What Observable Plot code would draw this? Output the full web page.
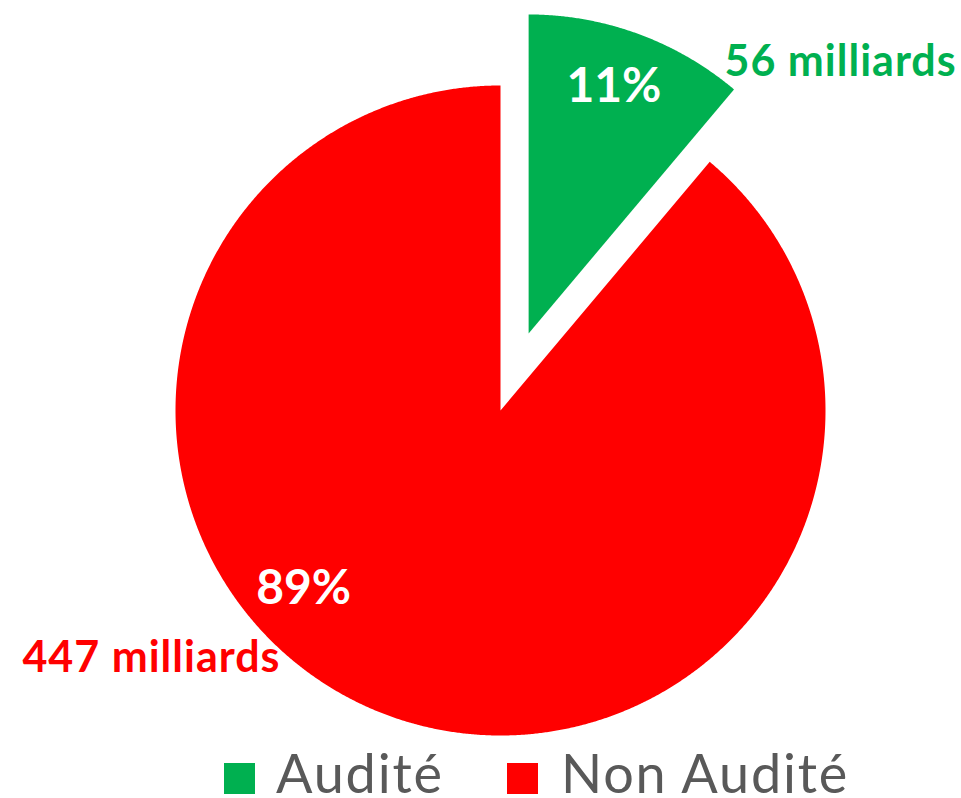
<!DOCTYPE html>
<html>
<head>
<meta charset="utf-8">
<script src="https://cdn.jsdelivr.net/npm/d3@7"></script>
<script src="https://cdn.jsdelivr.net/npm/@observablehq/plot@0.6"></script>
<style>
  html, body { margin: 0; padding: 0; background: #fff; }
  #chart { width: 961px; }
  #legend { position: relative; width: 961px; height: 56px; font-family: Lato, "Open Sans", sans-serif; color: #595959; }
  .sw { position: absolute; width: 31px; height: 31px; }
  .lt { position: absolute; font-size: 54px; line-height: 40px; letter-spacing: 1.8px; white-space: nowrap; }
</style>
</head>
<body>
<div id="chart"></div>
<div id="legend"></div>
<script>
// ---- data ----
const categories = ["Audité", "Non Audité"];
const values = [56, 447];
const valueLabels = ["56 milliards", "447 milliards"];
const colors = ["#00B050", "#FF0000"];

// ---- layout ----
const W = 961, H = 742;
const R = 325;            // px per unit radius
const CX = 500, CY = 410; // pie centre in px
const sliceRadius = [319 / 325, 1];
const explode = [82 / 325, 0];
// label placement: [angle shift from slice mid (deg), radial factor]
const pctPlace = [[-1, 0.82], [27.8, 0.817]];
const valPlace = [[29, 1.295], [34.6, 1.317]];

const total = d3.sum(values);
const arcs = d3.pie().sort(null).value(d => d)(values);
const deg = Math.PI / 180;

const points = [];
const pctData = [];
const valData = [];
arcs.forEach((a, i) => {
  const mid = (a.startAngle + a.endAngle) / 2;
  const ox = explode[i] * Math.sin(mid), oy = explode[i] * Math.cos(mid);
  const r = sliceRadius[i];
  points.push({label: categories[i], x: ox, y: oy});
  const n = Math.ceil((a.endAngle - a.startAngle) / (0.25 * deg));
  for (let k = 0; k <= n; k++) {
    const t = a.startAngle + (a.endAngle - a.startAngle) * k / n;
    points.push({label: categories[i], x: ox + r * Math.sin(t), y: oy + r * Math.cos(t)});
  }
  points.push({label: categories[i], x: ox, y: oy});
  const pa = mid + pctPlace[i][0] * deg, pr = pctPlace[i][1] * r;
  pctData.push({label: categories[i], text: Math.round(values[i] / total * 100) + "%",
    x: ox + pr * Math.sin(pa), y: oy + pr * Math.cos(pa)});
  const va = mid + valPlace[i][0] * deg, vr = valPlace[i][1] * r;
  valData.push({label: categories[i], text: valueLabels[i],
    x: ox + vr * Math.sin(va), y: oy + vr * Math.cos(va)});
});

const chart = Plot.plot({
  width: W, height: H, margin: 0,
  x: {domain: [-CX / R, (W - CX) / R], axis: null},
  y: {domain: [-(H - CY) / R, CY / R], axis: null},
  color: {domain: categories, range: colors},
  style: {background: "#fff", overflow: "visible"},
  marks: [
    Plot.line(points, {x: "x", y: "y", z: "label", fill: "label", stroke: null, curve: "linear"}),
    Plot.text(pctData, {x: "x", y: "y", text: "text", fill: "white", fontFamily: "Lato, 'Open Sans', sans-serif",
      fontWeight: "bold", fontSize: 48, textAnchor: "middle", lineAnchor: "middle"}),
    Plot.text(valData, {x: "x", y: "y", text: "text", fill: "label", fontFamily: "Lato, 'Open Sans', sans-serif",
      fontWeight: "bold", fontSize: 43, textAnchor: "middle", lineAnchor: "middle", className: "vlab"})
  ]
});
chart.querySelectorAll(".vlab text, g.vlab text").forEach(t => t.setAttribute("letter-spacing", "1"));
const vg = chart.querySelector("g.vlab");
if (vg) vg.setAttribute("letter-spacing", "1");
document.getElementById("chart").appendChild(chart);

// ---- legend ----
const legend = document.getElementById("legend");
const swX = [224, 507], txtX = [276, 561];
categories.forEach((c, i) => {
  const sw = document.createElement("div");
  sw.className = "sw";
  sw.style.left = swX[i] + "px";
  sw.style.top = "21px";
  sw.style.background = colors[i];
  legend.appendChild(sw);
  const t = document.createElement("span");
  t.className = "lt";
  t.style.left = txtX[i] + "px";
  t.style.top = "11px";
  t.textContent = c;
  legend.appendChild(t);
});
</script>
</body>
</html>
